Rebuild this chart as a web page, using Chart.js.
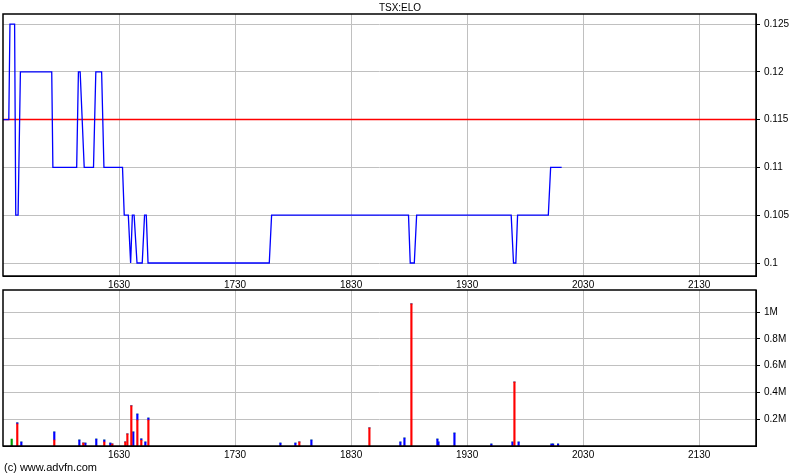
<!DOCTYPE html>
<html>
<head>
<meta charset="utf-8">
<script src="https://cdn.jsdelivr.net/npm/chart.js@4.4.1/dist/chart.umd.min.js"></script>
<style>
body { margin: 0; background: #fff; width: 800px; height: 475px; overflow: hidden; position: relative; font-family: "Liberation Sans", Arial, sans-serif; }
#priceChart { position: absolute; left: 0; top: 0; }
#volumeChart { position: absolute; left: 0; top: 289px; }
.title { position: absolute; top: 2px; left: 0; width: 800px; text-align: center; font-size: 10px; color: #000; }
.copy { position: absolute; left: 4px; top: 461px; font-size: 11px; color: #000; }
</style>
</head>
<body>
<canvas id="priceChart" width="800" height="290"></canvas>
<canvas id="volumeChart" width="800" height="186"></canvas>
<div class="title">TSX:ELO</div>
<div class="copy">(c) www.advfn.com</div>
<script>
// price line (x = bar index on the advfn time axis)
const priceX = [1530, 1535, 1536, 1540, 1541, 1543, 1545, 1572, 1573, 1593.5, 1595, 1596.5, 1600, 1608, 1610, 1615, 1617, 1633, 1634.5, 1638, 1640, 1641.5, 1643, 1645.5, 1650, 1652, 1653.5, 1655, 1759.5, 1761.5, 1879.5, 1881, 1884.5, 1886.5, 1968, 1970, 1972, 1973.5, 2000, 2002, 2011.5];
const priceY = [0.115, 0.115, 0.125, 0.125, 0.105, 0.105, 0.12, 0.12, 0.11, 0.11, 0.12, 0.12, 0.11, 0.11, 0.12, 0.12, 0.11, 0.11, 0.105, 0.105, 0.1, 0.105, 0.105, 0.1, 0.1, 0.105, 0.105, 0.1, 0.1, 0.105, 0.105, 0.1, 0.1, 0.105, 0.105, 0.1, 0.1, 0.105, 0.105, 0.11, 0.11];
const refLevel = 0.115;

// volume bars
const volX =     [1537.5, 1542.3, 1545.8, 1574.2, 1595.8, 1599.2, 1601, 1610.4, 1617.3, 1622.5, 1624.2, 1635.4, 1637.2, 1640.6, 1642.3, 1645.8, 1649.2, 1652.7, 1655.3, 1769.1, 1782, 1785.4, 1795.8, 1845.8, 1872.5, 1876, 1882, 1904.4, 1905.3, 1919.1, 1950.9, 1969.1, 1970.8, 1974.4, 2002.7, 2004.1, 2008.4];
const volRed =   [0, 165000, 0, 45000, 0, 22000, 0, 0, 30000, 0, 15000, 30000, 90000, 300000, 0, 194000, 43000, 0, 194000, 0, 0, 30000, 0, 135000, 0, 0, 1062000, 0, 0, 0, 0, 0, 478000, 0, 0, 0, 0];
const volBlue =  [0, 8000, 30000, 60000, 45000, 0, 22000, 52000, 15000, 22000, 0, 0, 0, 0, 105000, 45000, 10000, 30000, 15000, 22000, 22000, 0, 45000, 0, 30000, 60000, 0, 52000, 30000, 97000, 15000, 30000, 0, 30000, 15000, 15000, 15000];
const volGreen = [52000, 0, 0, 0, 0, 0, 0, 0, 0, 0, 0, 0, 0, 0, 0, 0, 0, 0, 0, 0, 0, 0, 0, 0, 0, 0, 0, 0, 0, 0, 0, 0, 0, 0, 0, 0, 0];

const xTicks = [1630, 1730, 1830, 1930, 2030, 2130];
const priceTicks = [0.1, 0.105, 0.11, 0.115, 0.12, 0.125];
const volTicks = [200000, 400000, 600000, 800000, 1000000];
const xMin = 1530, xMax = 2179;

const tickFont = { family: 'Liberation Sans', size: 10 };
const gridColor = '#c0c0c0';

const framePlugin = {
    id: 'frame',
    afterDraw(chart) {
        const a = chart.chartArea, ctx = chart.ctx;
        ctx.save();
        ctx.strokeStyle = '#000';
        ctx.lineWidth = 1.5;
        ctx.strokeRect(a.left, a.top, a.right - a.left, a.bottom - a.top);
        ctx.restore();
    }
};

function xScale() {
    return {
        type: 'linear',
        min: xMin,
        max: xMax,
        offset: false,
        afterBuildTicks: s => { s.ticks = xTicks.map(v => ({ value: v })); },
        afterFit: s => { s.height = 14; },
        grid: { color: gridColor, drawTicks: false, offset: false },
        border: { color: '#000' },
        ticks: { color: '#000', font: tickFont, padding: 3, maxRotation: 0, callback: v => String(v) }
    };
}

function yFit(s) {
    s.width = 44;
    s.paddingTop = 0;
    s.paddingBottom = 0;
}

function toPoints(xs, ys) {
    return xs.map((x, i) => ({ x: x, y: ys[i] }));
}

new Chart(document.getElementById('priceChart').getContext('2d'), {
    type: 'line',
    data: {
        datasets: [{
            data: toPoints(priceX, priceY),
            borderColor: '#0000ff',
            borderWidth: 1.3,
            pointRadius: 0,
            tension: 0
        }, {
            data: [{ x: xMin, y: refLevel }, { x: xMax, y: refLevel }],
            borderColor: '#ff0000',
            borderWidth: 1.5,
            pointRadius: 0
        }]
    },
    options: {
        responsive: false,
        devicePixelRatio: 1,
        animation: false,
        layout: { padding: { left: 3, top: 14, right: 0, bottom: 0 } },
        plugins: { legend: { display: false }, tooltip: { enabled: false } },
        scales: {
            x: xScale(),
            y: {
                type: 'linear',
                position: 'right',
                min: 0.09864,
                max: 0.12605,
                afterBuildTicks: s => { s.ticks = priceTicks.map(v => ({ value: v })); },
                afterFit: yFit,
                grid: { color: gridColor, tickColor: '#000', tickLength: 4 },
                border: { color: '#000' },
                ticks: { color: '#000', font: tickFont, padding: 4, callback: v => String(v) }
            }
        }
    },
    plugins: [framePlugin]
});

new Chart(document.getElementById('volumeChart').getContext('2d'), {
    type: 'bar',
    data: {
        datasets: [
            { data: toPoints(volX, volRed), backgroundColor: '#ff0000', barThickness: 1.5 },
            { data: toPoints(volX, volBlue), backgroundColor: '#0000ff', barThickness: 1.5 },
            { data: toPoints(volX, volGreen), backgroundColor: '#00a000', barThickness: 1.5 }
        ]
    },
    options: {
        responsive: false,
        devicePixelRatio: 1,
        animation: false,
        layout: { padding: { left: 3, top: 1, right: 0, bottom: 15 } },
        plugins: { legend: { display: false }, tooltip: { enabled: false } },
        scales: {
            x: Object.assign(xScale(), { stacked: true }),
            y: {
                type: 'linear',
                position: 'right',
                stacked: true,
                min: 0,
                max: 1166000,
                afterBuildTicks: s => { s.ticks = volTicks.map(v => ({ value: v })); },
                afterFit: yFit,
                grid: { color: gridColor, tickColor: '#000', tickLength: 4 },
                border: { color: '#000' },
                ticks: { color: '#000', font: tickFont, padding: 4, callback: v => (v / 1000000) + 'M' }
            }
        }
    },
    plugins: [framePlugin]
});
</script>
</body>
</html>
